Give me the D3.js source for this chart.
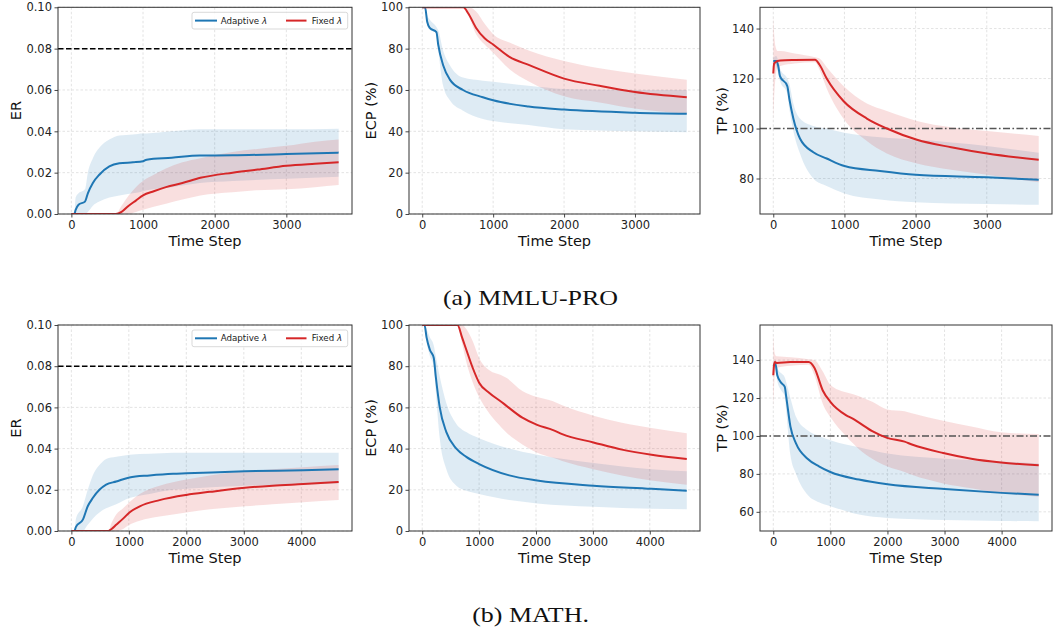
<!DOCTYPE html>
<html>
<head>
<meta charset="utf-8">
<script src="https://cdn.jsdelivr.net/npm/d3@7"></script>
<style>
  body { margin: 0; background: #fff; }
  svg { display: block; font-family: "DejaVu Sans", sans-serif; }
</style>
</head>
<body>
<div id="chart"></div>
<script>
// Rows: [time step, mean, lower band, upper band]

// ── (a) MMLU-PRO ──
const erMmluAdaptive = [
  [0, 0, 0, 0], [40, 0, 0, 0], [60, 0.002, 0, 0.008], [100, 0.0045, 0, 0.010],
  [190, 0.006, 0, 0.012], [230, 0.010, 0.001, 0.020], [300, 0.015, 0.004, 0.027],
  [390, 0.019, 0.006, 0.032], [530, 0.023, 0.008, 0.036], [670, 0.0245, 0.009, 0.038],
  [860, 0.025, 0.010, 0.0385], [1000, 0.0255, 0.011, 0.039], [1050, 0.0263, 0.0115, 0.039],
  [1400, 0.0272, 0.013, 0.040], [1790, 0.0283, 0.015, 0.041], [2250, 0.0284, 0.016, 0.041],
  [3000, 0.029, 0.017, 0.041], [3730, 0.0297, 0.018, 0.0413]
];
const erMmluFixed = [
  [0, 0, 0, 0], [620, 0, 0, 0], [700, 0.001, 0, 0.004], [800, 0.004, 0, 0.009],
  [900, 0.0065, 0.001, 0.013], [1000, 0.009, 0.002, 0.016], [1150, 0.011, 0.0035, 0.019],
  [1320, 0.013, 0.005, 0.022], [1550, 0.015, 0.007, 0.025], [1800, 0.0175, 0.009, 0.027],
  [2250, 0.020, 0.0105, 0.030], [2600, 0.0215, 0.0115, 0.0315], [3000, 0.0233, 0.012, 0.033],
  [3400, 0.0243, 0.013, 0.035], [3730, 0.025, 0.014, 0.036]
];
const ecpMmluAdaptive = [
  [0, 100, 100, 100], [40, 100, 100, 100], [70, 93, 92, 96], [107, 90, 89, 94],
  [200, 88, 87.5, 90.5], [225, 82, 80, 89], [295, 72, 62, 79], [390, 65, 55, 72],
  [575, 60, 50, 66], [855, 56.5, 46, 64.5], [1000, 55, 45, 64], [1500, 52, 43, 62],
  [2000, 50.5, 41, 60.5], [3000, 49, 40, 60], [3730, 48.5, 39.5, 60]
];
const ecpMmluFixed = [
  [0, 100, 100, 100], [580, 100, 100, 100], [650, 97, 96, 100], [760, 90, 87, 98],
  [880, 85, 82, 92], [1000, 82, 78, 87], [1230, 76, 70, 83], [1510, 72, 64, 79],
  [2000, 65.5, 57, 74], [2500, 62, 54, 70.5], [3000, 59, 51, 68], [3730, 56.5, 48.5, 65]
];
const tpMmluAdaptive = [
  [0, 127, 126, 128], [40, 127, 125, 129], [70, 125, 122, 127], [94, 121, 119, 124],
  [197, 117, 114, 120], [225, 112, 108, 118], [282, 104, 99, 110], [375, 96, 90, 104],
  [563, 90.5, 80, 101], [750, 88, 77, 100], [1000, 85, 74, 98.3], [1500, 83, 71.6, 96.5],
  [2000, 81.5, 70.5, 95.6], [3000, 80.5, 69.8, 93], [3730, 79.5, 69.5, 90.3]
];
const tpMmluFixed = [
  [0, 122, 103, 145], [12, 126, 112, 138], [30, 126.5, 120, 133], [60, 127, 124.5, 131],
  [100, 127.2, 125, 131], [300, 127.4, 126, 130], [587, 127.5, 126.5, 128.5], [650, 125.5, 123.5, 128],
  [751, 120, 116, 124.5], [986, 111, 104, 117], [1315, 104, 95, 110], [1596, 100, 90, 107],
  [2019, 95.5, 86, 103], [2500, 92.5, 83.5, 100.5], [3005, 90, 81.5, 99], [3730, 87.5, 78.5, 97]
];

// ── (b) MATH ──
const erMathAdaptive = [
  [0, 0, 0, 0], [50, 0, 0, 0], [80, 0.002, 0, 0.006], [200, 0.0055, 0, 0.012],
  [285, 0.012, 0.003, 0.020], [372, 0.016, 0.006, 0.027], [488, 0.020, 0.009, 0.032],
  [605, 0.0225, 0.011, 0.035], [780, 0.024, 0.013, 0.036], [1010, 0.026, 0.016, 0.037],
  [1360, 0.027, 0.018, 0.0375], [1770, 0.0278, 0.020, 0.038], [2000, 0.028, 0.0205, 0.038],
  [3020, 0.029, 0.022, 0.038], [4035, 0.0295, 0.0225, 0.038], [4650, 0.030, 0.023, 0.038]
];
const erMathFixed = [
  [0, 0, 0, 0], [640, 0, 0, 0], [700, 0.001, 0, 0.004], [780, 0.003, 0, 0.008],
  [900, 0.006, 0.001, 0.011], [1010, 0.009, 0.003, 0.014], [1190, 0.012, 0.005, 0.018],
  [1535, 0.015, 0.007, 0.022], [2000, 0.0175, 0.009, 0.025], [2410, 0.019, 0.0105, 0.027],
  [3020, 0.021, 0.012, 0.029], [3500, 0.022, 0.013, 0.030], [4035, 0.0228, 0.014, 0.031],
  [4650, 0.0238, 0.015, 0.032]
];
const ecpMathAdaptive = [
  [0, 100, 100, 100], [40, 100, 100, 100], [76, 94, 92, 98], [134, 88, 85, 94],
  [203, 84, 80, 90], [238, 75, 68, 85], [308, 60, 45, 75], [424, 48, 30, 62],
  [600, 40, 22, 52], [775, 36, 19.5, 48], [1000, 32.5, 18, 45], [1530, 27, 15, 40],
  [2020, 24.5, 13.4, 37], [3010, 22, 11.8, 33], [4030, 20.5, 10.8, 30], [4650, 19.5, 10.5, 29]
];
const ecpMathFixed = [
  [0, 100, 100, 100], [620, 100, 100, 100], [700, 94, 91, 100], [775, 88, 82, 98],
  [890, 79, 72, 92], [1000, 72, 65, 84], [1180, 67, 57, 78], [1400, 62.5, 50, 75.5],
  [1470, 61, 48, 74.5], [1760, 55, 42, 68], [2020, 51.5, 38, 65], [2300, 49, 35.5, 63],
  [2460, 47, 34, 61], [3010, 43, 30, 56], [3510, 39.5, 27, 52.5], [4030, 37, 24.5, 50],
  [4650, 35, 22.5, 47.5]
];
const tpMathAdaptive = [
  [0, 137, 136, 138], [40, 138, 136, 140], [70, 132, 129, 136], [140, 128, 124, 133],
  [200, 126, 121, 131], [230, 120, 112, 128], [300, 105, 90, 120], [400, 96, 80, 110],
  [600, 88, 69, 103], [800, 84, 65, 100], [1000, 81, 63, 97.7], [1500, 77, 58.6, 94],
  [2000, 74.5, 56.8, 90.7], [3000, 72, 55.7, 88], [4000, 70, 55.2, 86.5], [4650, 69, 55, 85.5]
];
const tpMathFixed = [
  [0, 132, 115, 154], [12, 137, 124, 147], [30, 139, 133, 143], [60, 138.5, 136, 142],
  [300, 139, 137, 141.5], [620, 139, 137.5, 140.5], [720, 136, 132, 140], [867, 124, 117, 134],
  [1000, 118, 110, 127], [1272, 111, 100, 123], [1400, 109, 96, 122], [1503, 107, 93, 121],
  [1734, 102.5, 88, 118], [1994, 99, 84, 114], [2300, 97, 81, 113], [2428, 95.5, 79.5, 112],
  [2977, 91, 75, 108], [3468, 88, 72.5, 105], [3988, 86, 70, 102], [4650, 84.5, 68, 101]
];

// ── Axis ticks / labels ──
const seriesNames = ["Adaptive λ", "Fixed λ"];
const captions = ["(a) MMLU-PRO", "(b) MATH."];
const xTicksMmlu = [0, 1000, 2000, 3000];
const xTicksMath = [0, 1000, 2000, 3000, 4000];
const erTicks = [0, 0.02, 0.04, 0.06, 0.08, 0.10];
const ecpTicks = [0, 20, 40, 60, 80, 100];
const tpTicksMmlu = [80, 100, 120, 140];
const tpTicksMath = [60, 80, 100, 120, 140];
const erTarget = 0.08;
const tpTarget = 100;
const lastStepMmlu = 3730;
const lastStepMath = 4650;

const BLUE = "#1f77b4";
const RED = "#d62728";

const width = 1053, height = 629;
const svg = d3.select("#chart").append("svg")
  .attr("width", width).attr("height", height);
svg.append("rect").attr("width", width).attr("height", height).attr("fill", "#fff");

const rows = [
  { top: 7.3, bottom: 214, last: lastStepMmlu, xTicks: xTicksMmlu, tpDomain: [65.8, 148.5], tpTicks: tpTicksMmlu,
    data: [erMmluAdaptive, erMmluFixed, ecpMmluAdaptive, ecpMmluFixed, tpMmluAdaptive, tpMmluFixed],
    caption: captions[0], capY: 304.5 },
  { top: 325, bottom: 531, last: lastStepMath, xTicks: xTicksMath, tpDomain: [49.9, 158.5], tpTicks: tpTicksMath,
    data: [erMathAdaptive, erMathFixed, ecpMathAdaptive, ecpMathFixed, tpMathAdaptive, tpMathFixed],
    caption: captions[1], capY: 621.5 }
];
const cols = [
  { left: 58, right: 352, labelX: 20.7, label: "ER" },
  { left: 409, right: 700, labelX: 376, label: "ECP (%)" },
  { left: 760, right: 1052, labelX: 726.7, label: "TP (%)" }
];

let clipId = 0;

function drawPanel(row, col, ci) {
  const x = d3.scaleLinear()
    .domain([-0.05 * row.last, 1.05 * row.last])
    .range([col.left, col.right]);

  let yDomain, yTicks, yFmt;
  if (ci === 0) { yDomain = [0, 0.10]; yTicks = erTicks; yFmt = d3.format(".2f"); }
  else if (ci === 1) { yDomain = [0, 100]; yTicks = ecpTicks; yFmt = d3.format("d"); }
  else { yDomain = row.tpDomain; yTicks = row.tpTicks; yFmt = d3.format("d"); }

  const y = d3.scaleLinear().domain(yDomain).range([row.bottom, row.top]);
  const g = svg.append("g");

  // ── Grid ──
  const grid = g.append("g").attr("stroke", "#dcdcdc").attr("stroke-width", 0.8)
    .attr("stroke-dasharray", "2.5,2");
  row.xTicks.forEach((t) => {
    grid.append("line").attr("x1", x(t)).attr("x2", x(t)).attr("y1", row.top).attr("y2", row.bottom);
  });
  yTicks.forEach((t) => {
    grid.append("line").attr("x1", col.left).attr("x2", col.right).attr("y1", y(t)).attr("y2", y(t));
  });

  const id = "clip" + (clipId++);
  svg.append("clipPath").attr("id", id).append("rect")
    .attr("x", col.left).attr("y", row.top)
    .attr("width", col.right - col.left).attr("height", row.bottom - row.top);
  const plot = g.append("g").attr("clip-path", `url(#${id})`);

  const series = [row.data[ci * 2], row.data[ci * 2 + 1]];
  const colors = [BLUE, RED];

  // ── Bands first (behind lines) ──
  series.forEach((s, i) => {
    const area = d3.area()
      .x((d) => x(d[0])).y0((d) => y(d[2])).y1((d) => y(d[3]))
      .curve(d3.curveMonotoneX);
    plot.append("path").attr("d", area(s))
      .attr("fill", colors[i]).attr("fill-opacity", 0.15);
  });

  // ── Reference line ──
  if (ci === 0) {
    plot.append("line").attr("x1", col.left).attr("x2", col.right)
      .attr("y1", y(erTarget)).attr("y2", y(erTarget))
      .attr("stroke", "#000").attr("stroke-width", 1.5).attr("stroke-dasharray", "5.5,2.5");
  } else if (ci === 2) {
    plot.append("line").attr("x1", col.left).attr("x2", col.right)
      .attr("y1", y(tpTarget)).attr("y2", y(tpTarget))
      .attr("stroke", "#555").attr("stroke-width", 1.5).attr("stroke-dasharray", "7,2.5,1.5,2.5");
  }

  // ── Mean lines ──
  series.forEach((s, i) => {
    const line = d3.line().x((d) => x(d[0])).y((d) => y(d[1])).curve(d3.curveMonotoneX);
    plot.append("path").attr("d", line(s))
      .attr("fill", "none").attr("stroke", colors[i]).attr("stroke-width", 2);
  });

  // ── Axes ──
  const xAxis = g.append("g").attr("transform", `translate(0,${row.bottom})`)
    .call(d3.axisBottom(x).tickValues(row.xTicks).tickSize(3.5).tickPadding(3.5).tickFormat(d3.format("d")));
  const yAxis = g.append("g").attr("transform", `translate(${col.left},0)`)
    .call(d3.axisLeft(y).tickValues(yTicks).tickSize(3.5).tickPadding(2.5).tickFormat(yFmt));
  [xAxis, yAxis].forEach((a) => {
    a.select(".domain").remove();
    a.selectAll(".tick line").attr("stroke", "#333").attr("stroke-width", 0.9);
    a.selectAll("text").attr("fill", "#222").attr("font-size", "11.5px")
      .attr("font-family", "DejaVu Sans, sans-serif");
  });

  g.append("rect").attr("x", col.left).attr("y", row.top)
    .attr("width", col.right - col.left).attr("height", row.bottom - row.top)
    .attr("fill", "none").attr("stroke", "#333").attr("stroke-width", 1);

  // ── Labels ──
  g.append("text")
    .attr("x", (col.left + col.right) / 2).attr("y", row.bottom + 31.7)
    .attr("text-anchor", "middle").attr("font-size", "14.5px").attr("fill", "#111")
    .text("Time Step");
  g.append("text")
    .attr("transform", `translate(${col.labelX},${(row.top + row.bottom) / 2}) rotate(-90)`)
    .attr("text-anchor", "middle").attr("font-size", "14.5px").attr("fill", "#111")
    .text(col.label);

  // ── Legend (ER panels only) ──
  if (ci === 0) {
    const ly = row.top + 5;
    const lg = g.append("g");
    lg.append("rect").attr("x", 192).attr("y", ly).attr("width", 155.7).attr("height", 16.7)
      .attr("rx", 2).attr("fill", "#fff").attr("fill-opacity", 0.85)
      .attr("stroke", "#cfcfcf").attr("stroke-width", 0.8);
    const items = [{ x: 195, w: 22, tx: 220.7 }, { x: 286, w: 20.5, tx: 311.7 }];
    items.forEach((it, i) => {
      lg.append("line").attr("x1", it.x).attr("x2", it.x + it.w)
        .attr("y1", ly + 8.3).attr("y2", ly + 8.3)
        .attr("stroke", colors[i]).attr("stroke-width", 2);
      const name = seriesNames[i].split(" ");
      const t = lg.append("text").attr("x", it.tx).attr("y", ly + 11.3)
        .attr("font-size", "8.7px").attr("fill", "#222");
      t.append("tspan").text(name[0] + " ");
      t.append("tspan").attr("font-style", "italic").text(name[1]);
    });
  }
}

rows.forEach((row) => {
  cols.forEach((col, ci) => drawPanel(row, col, ci));
  svg.append("text")
    .attr("transform", `translate(530.5,${row.capY}) scale(1.18,1)`)
    .attr("text-anchor", "middle")
    .attr("font-family", "Liberation Serif, Times New Roman, serif")
    .attr("font-size", "22px").attr("fill", "#111")
    .text(row.caption);
});
</script>
</body>
</html>
